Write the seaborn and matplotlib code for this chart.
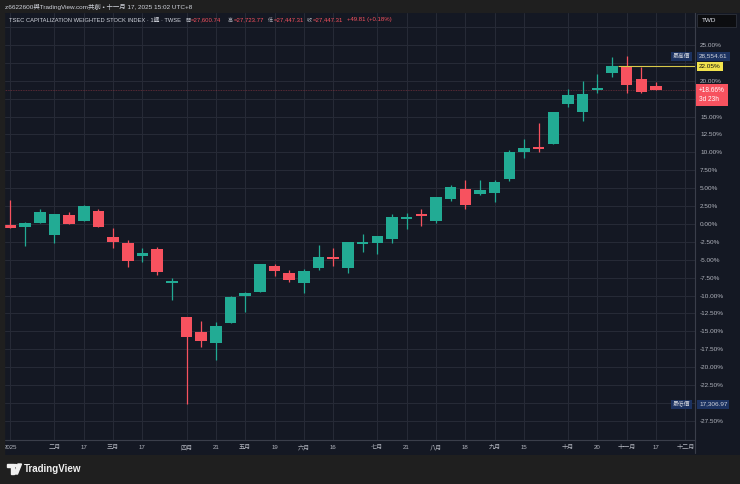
import numpy as np
import pandas as pd
import seaborn as sns
import matplotlib.pyplot as plt
from matplotlib.patches import Rectangle, Polygon, Circle
from matplotlib.lines import Line2D

# 週K線 (以百分比表示, 基準 = 23131)
opens = [-0.14, -0.42, 0.14, -1.54, 1.26, 0.42, 1.82, -1.82, -2.65, -4.47,
         -3.49, -8.24, -12.99, -15.08, -16.62, -13.83, -10.06, -9.50, -5.87, -6.84,
         -8.24, -6.15, -4.75, -6.15, -2.79, -2.65, -2.09, 0.70, 1.40, 0.42,
         3.49, 4.89, 4.19, 4.33, 6.28, 10.06, 10.61, 11.17, 16.76, 15.64,
         18.71, 21.09, 22.07, 20.25, 19.32]
highs = [3.35, 0.30, 2.09, 1.40, 1.68, 2.65, 2.09, -0.56, -2.23, -3.35,
         -3.21, -7.54, -12.99, -13.55, -13.69, -10.06, -9.50, -5.59, -5.59, -6.42,
         -6.28, -2.93, -3.35, -2.51, -1.40, -1.68, 1.40, 1.54, 2.09, 3.77,
         5.45, 6.15, 6.15, 6.15, 10.34, 11.87, 14.11, 15.64, 18.85, 19.97,
         20.95, 23.32, 23.45, 21.93, 19.85]
lows = [-0.56, -3.07, 0.14, -2.65, 0.0, 0.42, -0.42, -3.35, -6.00, -5.31,
        -7.12, -10.61, -25.18, -17.18, -18.99, -13.83, -12.29, -9.50, -7.26, -8.10,
        -9.64, -6.42, -5.87, -6.84, -3.91, -4.19, -2.65, -0.70, -0.28, 0.14,
        3.21, 2.09, 4.05, 3.07, 6.00, 9.22, 10.06, 11.17, 16.34, 14.39,
        18.30, 20.53, 18.30, 18.30, 18.66]
closes = [-0.56, 0.14, 1.68, 1.40, 0.0, 2.51, -0.42, -2.51, -5.17, -4.05,
          -6.70, -7.96, -15.78, -16.34, -14.25, -10.20, -9.64, -5.59, -6.56, -7.82,
          -6.56, -4.61, -4.89, -2.51, -2.65, -1.68, 0.98, 0.98, 1.12, 3.77,
          5.17, 2.65, 4.75, 5.87, 10.06, 10.61, 10.47, 15.64, 18.02, 18.16,
          18.99, 22.07, 19.41, 18.44, 18.66]

tick_pos = [0, 3, 5, 7, 9, 12, 14, 16, 18, 20, 22, 25, 27, 29, 31, 33, 35, 38, 40, 42, 44, 46]
tick_labels = ["2025", "二月", "17", "三月", "17", "四月", "21", "五月", "19", "六月", "16",
               "七月", "21", "八月", "18", "九月", "15", "十月", "20", "十一月", "17", "十二月"]
y_ticks = np.arange(-27.5, 27.51, 2.5)
hidden_ticks = [27.5, 22.5, 17.5, -25.0]   # 被價格標籤蓋住

hi_pct, hi_val = 23.45, "28,554.61"
lo_pct, lo_val = -25.18, "17,306.97"
line_pct = 22.05
last_pct = 18.66

df = pd.DataFrame({"o": opens, "h": highs, "l": lows, "c": closes})
df["x"] = np.arange(len(df))
df["up"] = df["c"] >= df["o"]

sns.set_style("dark")
plt.rcParams['font.family'] = ['Liberation Sans', 'Noto Sans CJK TC', 'DejaVu Sans']

BG = '#141823'
OUTER = '#1f1f1f'
GRID = '#272b37'
UP = '#22ab94'
DOWN = '#f7525f'
TXT = '#b2b5be'

W, H = 740, 484
fig = plt.figure(figsize=(7.4, 4.84), dpi=100, facecolor=OUTER)

def fx(px):
    return px / W

def fy(py):
    return 1 - py / H

# 圖表底色 (放在最底層)
bg_ax = fig.add_axes([fx(4), fy(455), fx(736), (455 - 13) / H], zorder=-5)
bg_ax.set_facecolor(BG)
bg_ax.set_axis_off()
bg_ax.add_patch(Rectangle((0, 0), 1, 1, transform=bg_ax.transAxes, color=BG))

ax = fig.add_axes([fx(4), fy(440), fx(691), (440 - 13) / H], zorder=1)
ax.set_facecolor(BG)
ax.set_xlim(-0.44, 46.66)
ax.set_ylim(-30.17, 29.47)

colors = np.where(df["up"], UP, DOWN)
body_lo = np.minimum(df["o"], df["c"])
body_h = np.maximum(np.abs(df["c"] - df["o"]), 0.22)
ax.vlines(df["x"], df["l"], df["h"], colors=colors, linewidth=0.9, zorder=3)
ax.bar(df["x"], body_h, bottom=body_lo, width=0.78, color=colors, linewidth=0, zorder=4)

# 格線 / 座標軸
ax.set_xticks(tick_pos)
ax.set_xticklabels(tick_labels)
ax.yaxis.tick_right()
ax.set_yticks(y_ticks)
ax.set_yticklabels(["" if any(abs(v - h) < 0.01 for h in hidden_ticks) else f"{v:.2f}%"
                    for v in y_ticks])
ax.grid(True, color=GRID, linewidth=0.7)
ax.set_axisbelow(True)
ax.tick_params(axis='x', length=0, pad=3.6, labelsize=4.4, colors=TXT)
ax.tick_params(axis='y', length=0, pad=3.6, labelsize=4.6, colors=TXT)
for s in ['top', 'left']:
    ax.spines[s].set_visible(False)
for s in ['bottom', 'right']:
    ax.spines[s].set_color('#3a3e4a')
    ax.spines[s].set_linewidth(0.8)
fig.lines.append(Line2D([fx(695), fx(695)], [fy(440), fy(453)], transform=fig.transFigure,
                        color='#3a3e4a', linewidth=0.8))

# 水平線與現價線
ax.hlines(line_pct, 41.4, 46.66, color='#d8c94a', linewidth=0.8, zorder=5)
ax.axhline(last_pct, color=DOWN, linewidth=0.6, linestyle=(0, (1, 1)), alpha=0.4, zorder=2)

ytf = ax.get_yaxis_transform()
xa = 1.006
ax.text(xa, line_pct, "22.05%", transform=ytf, fontsize=4.6, color='#111111', va='center',
        ha='left', clip_on=False, zorder=6,
        bbox=dict(boxstyle='square,pad=0.3', fc='#f2e34d', ec='none'))
ax.text(xa, last_pct - 0.6, "+18.66%\n3d 23h", transform=ytf, fontsize=4.7, color='white',
        va='center', ha='left', linespacing=1.35, clip_on=False, zorder=6,
        bbox=dict(boxstyle='square,pad=0.45', fc=DOWN, ec='none'))
for pct, val, lab in [(hi_pct, hi_val, "最高價"), (lo_pct, lo_val, "最低價")]:
    ax.text(xa, pct, val, transform=ytf, fontsize=4.6, color='#d1d4dc', va='center', ha='left',
            clip_on=False, zorder=6,
            bbox=dict(boxstyle='square,pad=0.3', fc='#1c3260', ec='none'))
    ax.text(0.993, pct, lab, transform=ytf, fontsize=4.2, color='#d1d4dc', va='center', ha='right',
            clip_on=False, zorder=6,
            bbox=dict(boxstyle='square,pad=0.3', fc='#1c3260', ec='none'))

# 左側邊框 (遮住 2025 的前半)
fig.patches.append(Rectangle((0, fy(455)), fx(4), (455 - 13) / H, transform=fig.transFigure,
                             color=OUTER, zorder=10))

# TWD
fig.patches.append(Rectangle((fx(697), fy(27)), fx(39), 13 / H, transform=fig.transFigure,
                             fc='#0c0d10', ec='#2e323c', lw=0.6, zorder=11))
fig.text(fx(702), fy(20.5), "TWD", fontsize=4.6, color='#e0e3eb', va='center', ha='left',
         zorder=12)

# 標題
fig.text(fx(5), fy(7), "z6622600與TradingView.com共創 • 十一月 17, 2025 15:02 UTC+8",
         fontsize=4.6, color='#d1d4dc', va='center', ha='left')
fig.text(fx(9), fy(20), "TSEC CAPITALIZATION WEIGHTED STOCK INDEX · 1週 · TWSE",
         fontsize=4.15, color='#d1d4dc', va='center', ha='left')
parts = [(185, "開", TXT, 3.6), (190.5, "=27,600.74", DOWN, 4.3),
         (228, "高", TXT, 3.6), (233.5, "=27,723.77", DOWN, 4.3),
         (268, "低", TXT, 3.6), (273.5, "=27,447.31", DOWN, 4.3),
         (307, "收", TXT, 3.6), (312.5, "=27,447.31", DOWN, 4.3),
         (347, "+49.81 (+0.18%)", DOWN, 4.3)]
for px, s, c, fs in parts:
    fig.text(fx(px), fy(20), s, fontsize=fs, color=c, va='center', ha='left')

# TradingView 標誌
fig.patches.append(Polygon([(fx(7), fy(464)), (fx(13.5), fy(464)), (fx(13.5), fy(474)),
                            (fx(10.5), fy(474)), (fx(10.5), fy(467)), (fx(7), fy(467))],
                           closed=True, transform=fig.transFigure, color='#f0f0f0', zorder=11))
fig.patches.append(Circle((fx(15.6), fy(465.6)), 1.6 / W, transform=fig.transFigure,
                          color='#f0f0f0', zorder=11))
fig.patches.append(Polygon([(fx(18), fy(464)), (fx(21.5), fy(464)), (fx(17.5), fy(474)),
                            (fx(14), fy(474))],
                           closed=True, transform=fig.transFigure, color='#f0f0f0', zorder=11))
fig.text(fx(24), fy(469), "TradingView", fontsize=7, fontweight='bold', color='#f0f0f0',
         va='center', ha='left')

fig.savefig("out.png", dpi=100, facecolor=OUTER)
